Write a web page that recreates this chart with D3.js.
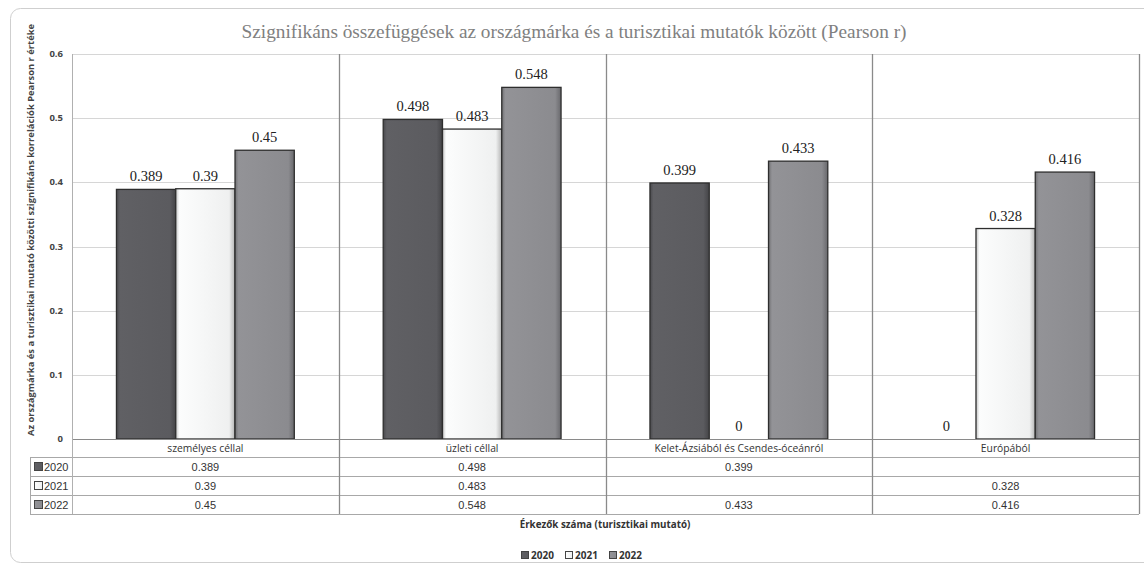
<html>
<head>
<meta charset="utf-8">
<script src="https://d3js.org/d3.v7.min.js"></script>
<style>
  body { margin: 0; background: #fff; }
</style>
</head>
<body>
<div id="chart_area"></div>
<script>

// chart data
var categories = ["személyes céllal", "üzleti céllal", "Kelet-Ázsiából és Csendes-óceánról", "Európából"];
var years = ["2020", "2021", "2022"];
var v2020 = [0.389, 0.498, 0.399, null];
var v2021 = [0.39, 0.483, null, 0.328];
var v2022 = [0.45, 0.548, 0.433, 0.416];
var yTicks = [0, 0.1, 0.2, 0.3, 0.4, 0.5, 0.6];

var series = [v2020, v2021, v2022];
var colors = { "2020": "#5b5b5f", "2021": "#eff0f0", "2022": "#8b8b8f" };

var W = 1144, H = 568;
var plotLeft = 72, plotRight = 1139, plotTop = 54, zero = 439;
var rowH = 19, catRowH = 18, labelColX = 30;

var svg = d3.select("#chart_area").append("svg").attr("width", W).attr("height", H);

// outer frame
svg.append("rect").attr("x", 10.5).attr("y", 8.5).attr("width", 1150).attr("height", 554)
   .attr("rx", 10).attr("fill", "none").attr("stroke", "#cfcfcf");

// title
svg.append("text").attr("x", 574).attr("y", 38).attr("text-anchor", "middle")
   .style("font-family", "Liberation Serif").style("font-size", "19.3px").attr("fill", "#808080")
   .text("Szignifikáns összefüggések az országmárka és a turisztikai mutatók között (Pearson r)");

var x = d3.scaleBand().domain(categories).range([plotLeft, plotRight]).padding(0);
var xs = d3.scaleBand().domain(years).range([x.bandwidth() / 6, x.bandwidth() * 5 / 6]).padding(0);
var y = d3.scaleLinear().domain([0, 0.6]).range([zero, plotTop]);

// gradients for the bevelled bars
var defs = svg.append("defs");
years.forEach(function(yr) {
  var c = d3.color(colors[yr]);
  var g = defs.append("linearGradient").attr("id", "g" + yr).attr("x1", 0).attr("x2", 1).attr("y1", 0).attr("y2", 0);
  g.append("stop").attr("offset", "0%").attr("stop-color", c.darker(0.6));
  g.append("stop").attr("offset", "6%").attr("stop-color", c.brighter(0.15));
  g.append("stop").attr("offset", "90%").attr("stop-color", c);
  g.append("stop").attr("offset", "100%").attr("stop-color", c.darker(0.8));
});

// grid lines
svg.append("g").selectAll("line").data(yTicks).enter().append("line")
   .attr("x1", plotLeft).attr("x2", plotRight)
   .attr("y1", function(d) { return Math.round(y(d)) + 0.5; })
   .attr("y2", function(d) { return Math.round(y(d)) + 0.5; })
   .attr("stroke", "#d6d6d6");

// y axis tick labels
svg.append("g").selectAll("text").data(yTicks).enter().append("text")
   .attr("x", 63).attr("y", function(d) { return y(d) + 3; })
   .attr("text-anchor", "end")
   .style("font-family", "Open Sans").style("font-size", "9.5px").style("font-weight", "bold").attr("fill", "#444")
   .text(function(d) { return d; });

// y axis title
svg.append("text").attr("transform", "translate(34," + 230 + ") rotate(-90)")
   .attr("text-anchor", "middle")
   .style("font-family", "Open Sans").style("font-size", "9.4px").style("font-weight", "bold").attr("fill", "#444")
   .text("Az országmárka és a turisztikai mutató közötti szignifikáns korrelációk Pearson r értéke");

// bars
years.forEach(function(yr, si) {
  var vals = series[si];
  var g = svg.append("g");
  g.selectAll("rect").data(categories).enter().append("rect")
   .filter(function(d, i) { return vals[i] !== null; })
   .attr("x", function(d) { return x(d) + xs(yr); })
   .attr("width", xs.bandwidth())
   .attr("y", function(d) { return y(vals[categories.indexOf(d)]); })
   .attr("height", function(d) { return zero - y(vals[categories.indexOf(d)]); })
   .attr("fill", "url(#g" + yr + ")")
   .attr("stroke", "#2e2e2e").attr("stroke-width", 1.3);

  g.selectAll("text").data(categories).enter().append("text")
   .attr("x", function(d) { return x(d) + xs(yr) + xs.bandwidth() / 2; })
   .attr("y", function(d, i) { return y(vals[i] === null ? 0 : vals[i]) - 8; })
   .attr("text-anchor", "middle")
   .style("font-family", "Liberation Serif").style("font-size", "14.5px").attr("fill", "#222")
   .text(function(d, i) { return vals[i] === null ? 0 : vals[i]; });
});

// table
var tableTop = zero + catRowH;
var tableBottom = tableTop + rowH * years.length;

// horizontal lines
svg.append("line").attr("x1", plotLeft).attr("x2", plotRight).attr("y1", zero + 0.5).attr("y2", zero + 0.5).attr("stroke", "#8a8a8a");
d3.range(years.length + 1).forEach(function(i) {
  var yy = Math.round(tableTop + i * rowH) + 0.5;
  svg.append("line").attr("x1", labelColX).attr("x2", plotRight).attr("y1", yy).attr("y2", yy).attr("stroke", "#a8a8a8");
});
svg.append("line").attr("x1", plotLeft).attr("x2", plotRight).attr("y1", plotTop + 0.5).attr("y2", plotTop + 0.5).attr("stroke", "#d6d6d6");

// vertical dividers
var bounds = categories.map(function(c) { return x(c); }).concat([plotRight]);
svg.append("g").selectAll("line").data(bounds).enter().append("line")
   .attr("x1", function(d) { return Math.round(d) + 0.5; })
   .attr("x2", function(d) { return Math.round(d) + 0.5; })
   .attr("y1", plotTop)
   .attr("y2", tableBottom)
   .attr("stroke", function(d, i) { return i === 0 ? "#b0b0b0" : "#8a8a8a"; })
   .attr("stroke-width", function(d, i) { return i === 0 ? 1 : 1.3; });
svg.append("line").attr("x1", labelColX + 0.5).attr("x2", labelColX + 0.5).attr("y1", tableTop).attr("y2", tableBottom).attr("stroke", "#a8a8a8");

// category labels
svg.append("g").selectAll("text").data(categories).enter().append("text")
   .attr("x", function(d) { return x(d) + x.bandwidth() / 2; })
   .attr("y", zero + 13)
   .attr("text-anchor", "middle")
   .style("font-family", "Open Sans").style("font-size", "10.3px").attr("fill", "#333")
   .text(function(d) { return d; });

// table rows
years.forEach(function(yr, si) {
  var vals = series[si];
  var ry = tableTop + si * rowH;
  svg.append("rect").attr("x", 34.5).attr("y", ry + 5.5).attr("width", 8).attr("height", 8)
     .attr("fill", "url(#g" + yr + ")").attr("stroke", "#444").attr("stroke-width", 1);
  svg.append("text").attr("x", 44).attr("y", ry + 14)
     .style("font-family", "Liberation Sans").style("font-size", "11px").attr("fill", "#333")
     .text(yr);
  svg.append("g").selectAll("text").data(categories).enter().append("text")
     .attr("x", function(d) { return x(d) + x.bandwidth() / 2; })
     .attr("y", ry + 14)
     .attr("text-anchor", "middle")
     .style("font-family", "Liberation Sans").style("font-size", "11px").attr("fill", "#333")
     .text(function(d, i) { return vals[i] === null ? "" : vals[i]; });
});

// x axis title
svg.append("text").attr("x", 605).attr("y", 528).attr("text-anchor", "middle")
   .style("font-family", "Open Sans").style("font-size", "9.8px").style("font-weight", "bold").attr("fill", "#333")
   .text("Érkezők száma (turisztikai mutató)");

// legend
var legendX = [521, 565, 609];
years.forEach(function(yr, i) {
  svg.append("rect").attr("x", legendX[i] + 0.5).attr("y", 551.5).attr("width", 7).attr("height", 7)
     .attr("fill", "url(#g" + yr + ")").attr("stroke", "#444");
  svg.append("text").attr("x", legendX[i] + 10).attr("y", 558.5)
     .style("font-family", "Open Sans").style("font-size", "10px").style("font-weight", "bold").attr("fill", "#333")
     .text(yr);
});

</script>
</body>
</html>
